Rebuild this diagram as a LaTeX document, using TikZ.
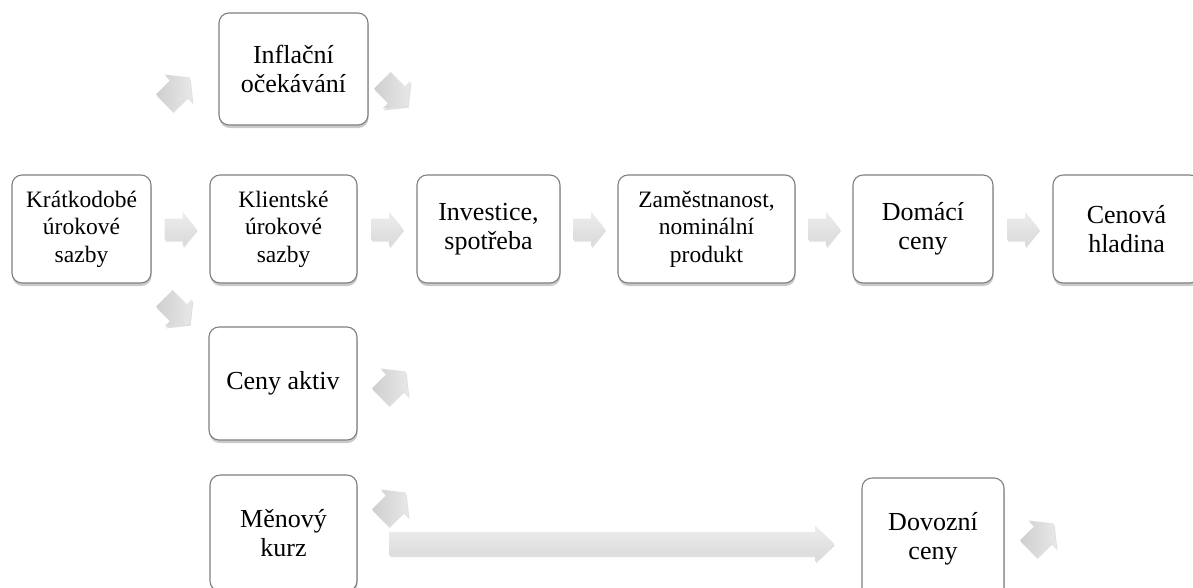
\documentclass[tikz,border=0pt]{standalone}
\usepackage{fontspec}
\setmainfont{Liberation Serif}
\usetikzlibrary{shadows,calc}
\definecolor{boxline}{HTML}{7F7F7F}
\tikzset{
 box/.style={draw=boxline, line width=1.1pt, fill=white, rounded corners=10pt, align=center, inner sep=2pt,
   drop shadow={shadow xshift=0.5pt, shadow yshift=-3pt, opacity=0.35, fill=black!60}},
 bigtxt/.style={font=\fontsize{26}{28.5}\selectfont},
 smalltxt/.style={font=\fontsize{23.5}{27.5}\selectfont},
 arrfill/.style={top color=gray!14, bottom color=gray!30, draw=none,
   drop shadow={shadow xshift=1pt, shadow yshift=-2pt, opacity=0.25}},
 diagfill/.style={left color=gray!38, right color=gray!18, draw=none,
   drop shadow={shadow xshift=1pt, shadow yshift=-2pt, opacity=0.25}},
}
\newcommand\blockarr[4]{\path[#4, shift={#1}, rotate=#2, scale=#3] (-16,-10.5) -- (2,-10.5) -- (2,-17.5) -- (16,0) -- (2,17.5) -- (2,10.5) -- (-16,10.5) -- cycle;}
\begin{document}
\begin{tikzpicture}[x=1pt,y=-1pt]
\useasboundingbox (0,0) rectangle (1193,587);
\clip (0,0) rectangle (1193,587);
% boxes
\node[box,bigtxt,minimum width=149pt,minimum height=112pt] (infl) at (293.5,69) {Inflační\\očekávání};
\node[box,smalltxt,minimum width=139pt,minimum height=108pt] (krat) at (81.5,229) {Krátkodobé\\úrokové\\sazby};
\node[box,smalltxt,minimum width=147pt,minimum height=108pt] (klie) at (283.5,229) {Klientské\\úrokové\\sazby};
\node[box,bigtxt,minimum width=143pt,minimum height=108pt] (inve) at (488.5,229) {Investice,\\spotřeba};
\node[box,smalltxt,minimum width=177pt,minimum height=108pt] (zame) at (706.5,229) {Zaměstnanost,\\nominální\\produkt};
\node[box,bigtxt,minimum width=140pt,minimum height=108pt] (doma) at (923,229) {Domácí\\ceny};
\node[box,bigtxt,minimum width=147pt,minimum height=108pt] (ceno) at (1126.5,229) {Cenová\\hladina};
\node[box,bigtxt,minimum width=148pt,minimum height=113pt] (akti) at (283,383.5) {Ceny aktiv};
\node[box,bigtxt,minimum width=147pt,minimum height=116pt] (meno) at (283.5,533) {Měnový\\kurz};
\node[box,bigtxt,minimum width=142pt,minimum height=122pt] (dovo) at (933,539) {Dovozní\\ceny};
% horizontal block arrows between row boxes
\blockarr{($(krat.east)!0.5!(klie.west)$)}{0}{1}{arrfill}
\blockarr{($(klie.east)!0.5!(inve.west)$)}{0}{1}{arrfill}
\blockarr{($(inve.east)!0.5!(zame.west)$)}{0}{1}{arrfill}
\blockarr{($(zame.east)!0.5!(doma.west)$)}{0}{1}{arrfill}
\blockarr{($(doma.east)!0.5!(ceno.west)$)}{0}{1}{arrfill}
% diagonal arrows
\blockarr{(177,90)}{45}{1.12}{diagfill}
\blockarr{(395,93)}{-45}{1.12}{diagfill}
\blockarr{(177,311)}{-45}{1.12}{diagfill}
\blockarr{(393,384)}{45}{1.12}{diagfill}
\blockarr{(393,505)}{45}{1.12}{diagfill}
\blockarr{(1041,536)}{45}{1.12}{diagfill}
% long arrow
\coordinate (la) at (389,543.5);
\coordinate (lb) at (834,543.5);
\path[arrfill] ($(la)+(0,-11.5)$) -- ($(lb)+(-19,-11.5)$) -- ($(lb)+(-19,-18)$) -- (lb) -- ($(lb)+(-19,18)$) -- ($(lb)+(-19,11.5)$) -- ($(la)+(0,11.5)$) -- cycle;
\end{tikzpicture}
\end{document}
